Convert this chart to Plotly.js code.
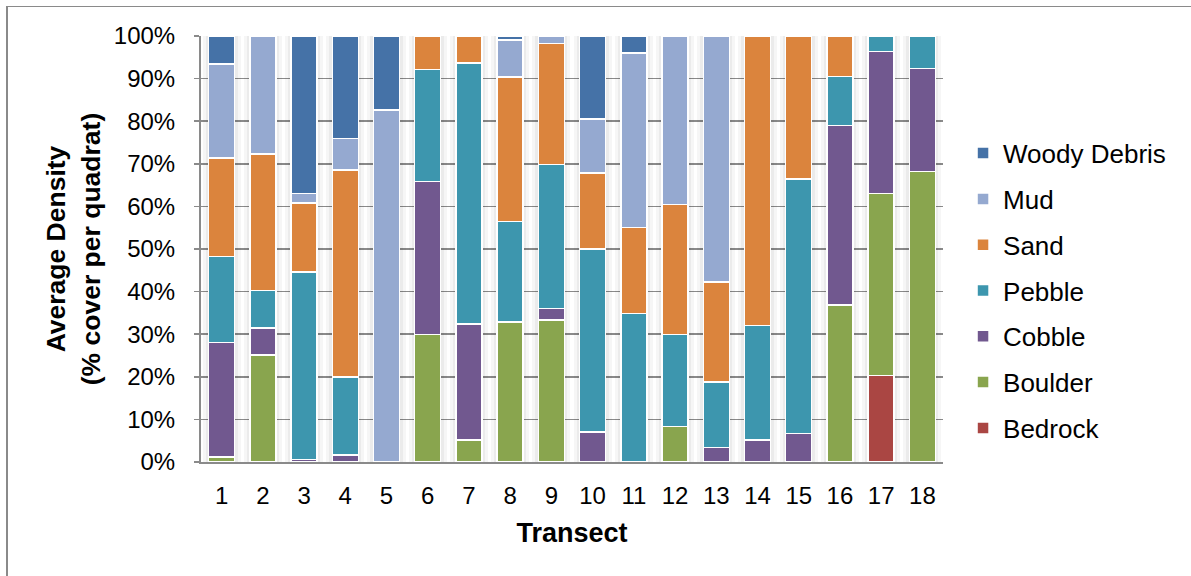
<!DOCTYPE html>
<html>
<head>
<meta charset="utf-8">
<script src="https://cdn.plot.ly/plotly-3.0.1.min.js"></script>
<style>
  html, body { margin: 0; padding: 0; background: #ffffff; }
  #wrap { position: relative; width: 1191px; height: 576px; overflow: hidden; }
  #chart { position: absolute; left: 0; top: 0; width: 1191px; height: 576px; }
  #frame { position: absolute; left: 6px; top: 6px; width: 1200px; height: 600px;
           border-top: 1.5px solid #8a8a8a; border-left: 2px solid #8a8a8a;
           pointer-events: none; }
</style>
</head>
<body>
<div id="wrap">
  <div id="chart"></div>
  <div id="frame"></div>
</div>
<script>
// Substrate composition (% cover per quadrat) for each transect
const transects = ['1','2','3','4','5','6','7','8','9','10','11','12','13','14','15','16','17','18'];

const bedrock = [0, 0, 0, 0, 0, 0, 0, 0, 0, 0, 0, 0, 0, 0, 0, 0, 20.3, 0];
const boulder = [1.2, 25.1, 0, 0, 0, 29.9, 5.2, 32.9, 33.3, 0, 0, 8.3, 0, 0, 0, 36.9, 42.7, 68.2];
const cobble  = [26.9, 6.4, 0.6, 1.6, 0, 35.9, 27.2, 0, 2.7, 7.0, 0, 0, 3.4, 5.2, 6.7, 42.1, 33.4, 24.2];
const pebble  = [20.1, 8.8, 44.0, 18.4, 0, 26.3, 61.3, 23.5, 33.8, 43.0, 34.9, 21.6, 15.4, 26.8, 59.7, 11.5, 3.6, 7.6];
const sand    = [23.2, 32.0, 16.2, 48.5, 0, 7.9, 6.3, 34.0, 28.4, 17.9, 20.1, 30.5, 23.5, 68.0, 33.6, 9.5, 0, 0];
const mud     = [22.0, 27.7, 2.2, 7.4, 82.6, 0, 0, 8.7, 1.8, 12.6, 41.0, 39.6, 57.7, 0, 0, 0, 0, 0];
const woody   = [6.6, 0, 37.0, 24.1, 17.4, 0, 0, 0.9, 0, 19.5, 4.0, 0, 0, 0, 0, 0, 0, 0];

const seriesNames  = ['Bedrock', 'Boulder', 'Cobble', 'Pebble', 'Sand', 'Mud', 'Woody Debris'];
const seriesValues = [bedrock, boulder, cobble, pebble, sand, mud, woody];
const seriesColors = ['#AA4643', '#89A54E', '#71588F', '#3D96AE', '#DB843D', '#95A9D0', '#4572A7'];

// full-height column used for the soft shadow behind each bar
const columnTotal = transects.map(() => 100);

const FONT = 'Liberation Sans, Arial, sans-serif';

const traces = [];

// soft shadow columns on the base axes (drawn underneath the stacked bars)
traces.push({
  type: 'bar',
  x: transects,
  y: columnTotal,
  xaxis: 'x', yaxis: 'y',
  width: 0.78,
  marker: { color: 'rgba(0,0,0,0.045)', line: { color: 'rgba(0,0,0,0.035)', width: 6 } },
  showlegend: false,
  hoverinfo: 'skip'
});

// stacked substrate bars on the overlaying axes; legend lists the top layer first
seriesNames.forEach((name, i) => {
  traces.push({
    type: 'bar',
    name: name,
    x: transects,
    y: seriesValues[i],
    xaxis: 'x2', yaxis: 'y2',
    width: 0.63,
    legendgroup: name,
    legendrank: seriesNames.length - i,
    marker: { color: seriesColors[i], line: { color: '#ffffff', width: 1.5 } },
    hovertemplate: name + ': %{y}%<extra></extra>'
  });
});

const layout = {
  width: 1191,
  height: 576,
  paper_bgcolor: '#ffffff',
  plot_bgcolor: 'rgba(0,0,0,0)',
  margin: { l: 201, r: 248, t: 36, b: 114 },
  barmode: 'stack',
  font: { family: FONT, color: '#000000', size: 24 },
  xaxis: {
    type: 'category',
    range: [-0.5, 17.5],
    showgrid: false,
    showline: true,
    linecolor: '#8a8a8a',
    linewidth: 2,
    ticks: '',
    tickfont: { family: FONT, size: 24, color: '#000000' },
    ticklabelstandoff: 11,
    title: { text: 'Transect', font: { family: FONT, size: 27, color: '#000000', weight: 'bold' }, standoff: 15 },
    zeroline: false
  },
  yaxis: {
    range: [0, 100],
    dtick: 10,
    ticksuffix: '%',
    showgrid: true,
    gridcolor: '#8a8a8a',
    gridwidth: 1.5,
    showline: true,
    linecolor: '#8a8a8a',
    linewidth: 2,
    ticks: 'outside',
    ticklen: 5,
    tickcolor: '#8a8a8a',
    tickwidth: 1.5,
    tickfont: { family: FONT, size: 24, color: '#000000' },
    ticklabelstandoff: 14,
    zeroline: false,
    title: {
      text: 'Average Density<br>(% cover per quadrat)',
      font: { family: FONT, size: 26.5, color: '#000000', weight: 'bold' },
      standoff: 6
    }
  },
  xaxis2: {
    type: 'category',
    overlaying: 'x',
    range: [-0.5, 17.5],
    visible: false
  },
  yaxis2: {
    overlaying: 'y',
    range: [0, 100],
    visible: false
  },
  legend: {
    x: 1.027,
    xanchor: 'left',
    y: 0.78,
    yanchor: 'top',
    traceorder: 'grouped',
    tracegroupgap: 9,
    font: { family: FONT, size: 26, color: '#000000' },
    bgcolor: 'rgba(0,0,0,0)',
    borderwidth: 0
  },
  showlegend: true
};

Plotly.newPlot('chart', traces, layout, { displayModeBar: false, staticPlot: true });
</script>
</body>
</html>
